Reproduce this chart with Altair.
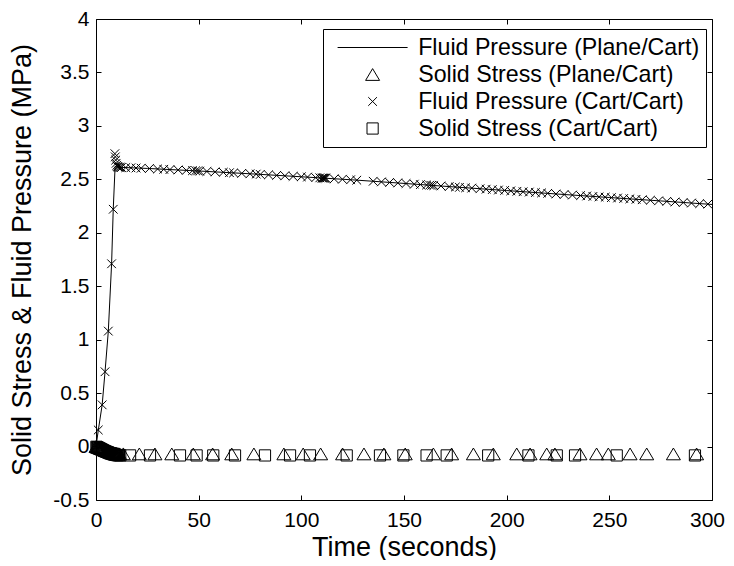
import altair as alt
import pandas as pd

# ---------------- data ----------------
series_names = [
    "Fluid Pressure (Plane/Cart)",
    "Solid Stress (Plane/Cart)",
    "Fluid Pressure (Cart/Cart)",
    "Solid Stress (Cart/Cart)",
]

# Fluid pressure, Plane/Cart (solid line)
line_t = [0, 1.1, 3.0, 4.4, 6.0, 7.6, 8.4, 9.3, 12, 25, 50, 75, 100, 125, 150,
          175, 200, 225, 250, 275, 300]
line_p = [0.0, 0.15, 0.39, 0.70, 1.08, 1.71, 2.22, 2.62, 2.612, 2.602, 2.578,
          2.552, 2.524, 2.495, 2.462, 2.428, 2.395, 2.362, 2.330, 2.298, 2.265]

# Fluid pressure, Cart/Cart (x markers)
cross_t = [0, 1.1, 3.0, 4.4, 6.0, 7.6, 8.4, 9.2, 9.4, 9.6, 9.8, 10.1, 10.4, 10.8,
           11.3, 11.8, 12.4, 14.5, 17, 19.5, 22, 26, 30, 33, 36, 40, 44, 47, 48.5,
           49.5, 50.5, 54, 58, 62, 65, 67, 71, 75, 78, 80, 84, 88, 92, 96, 100,
           103, 107, 109, 110, 110.5, 111, 111.5, 112, 116, 120, 124, 127, 135,
           139, 143, 147, 151, 155, 158, 161, 162.5, 163.5, 164.5, 168, 172, 175,
           177, 180, 183, 187, 190, 193, 196, 199, 202, 205, 208, 211, 214, 217,
           220, 224, 228, 232, 236, 239, 242, 245, 248, 251, 254, 257, 260, 263,
           266, 270, 274, 278, 282, 286, 290, 294, 298]
cross_p = [0.0, 0.155, 0.39, 0.70, 1.08, 1.71, 2.22, 2.74, 2.71, 2.68, 2.65, 2.63,
           2.62, 2.615, 2.612, 2.612, 2.611, 2.610, 2.608, 2.606, 2.604, 2.601,
           2.597, 2.594, 2.591, 2.588, 2.584, 2.581, 2.580, 2.579, 2.577, 2.574,
           2.570, 2.566, 2.562, 2.560, 2.556, 2.552, 2.549, 2.546, 2.542, 2.537,
           2.533, 2.528, 2.524, 2.521, 2.516, 2.514, 2.512, 2.512, 2.511, 2.511,
           2.510, 2.505, 2.501, 2.496, 2.492, 2.482, 2.476, 2.471, 2.466, 2.461,
           2.455, 2.451, 2.447, 2.445, 2.444, 2.442, 2.438, 2.432, 2.428, 2.425,
           2.421, 2.418, 2.412, 2.408, 2.404, 2.400, 2.396, 2.392, 2.388, 2.384,
           2.381, 2.377, 2.373, 2.369, 2.363, 2.358, 2.353, 2.348, 2.344, 2.340,
           2.336, 2.333, 2.329, 2.325, 2.321, 2.317, 2.313, 2.309, 2.304, 2.299,
           2.294, 2.288, 2.283, 2.278, 2.273, 2.268]

# Solid stress, Plane/Cart (triangles)
tri_t = [0, 0.4, 0.8, 1.2, 1.6, 2.0, 2.4, 2.8, 3.2, 3.6, 4.0, 4.5, 5.0, 5.5, 6.0,
         6.5, 7.0, 7.5, 8.0, 8.5, 9.0, 9.5, 10.0, 10.5, 11.0, 11.5,
         13.3, 21.1, 28.7, 36.9, 47.4, 56.8, 66.1, 76.9, 91.5, 100.9, 109.4,
         120.1, 130.5, 140.2, 150.6, 164.3, 173.2, 183.8, 193.5, 204.9, 211.4,
         219.5, 223.5, 235.7, 243.8, 249.5, 260.1, 268.2, 281.2, 292.5]
tri_s = [0.0, -0.003, -0.006, -0.009, -0.012, -0.015, -0.018, -0.021, -0.024,
         -0.027, -0.030, -0.033, -0.036, -0.039, -0.042, -0.045, -0.048, -0.051,
         -0.054, -0.057, -0.060, -0.062, -0.064, -0.066, -0.067, -0.068,
         -0.068, -0.069, -0.069, -0.069, -0.069, -0.069, -0.069, -0.069, -0.069,
         -0.069, -0.069, -0.069, -0.069, -0.069, -0.069, -0.069, -0.069, -0.069,
         -0.069, -0.069, -0.069, -0.069, -0.069, -0.069, -0.069, -0.069, -0.069,
         -0.069, -0.069, -0.069]

# Solid stress, Cart/Cart (squares)
sq_t = [0.2, 0.6, 1.0, 1.4, 1.8, 2.2, 2.6, 3.0, 3.4, 3.8, 4.2, 4.7, 5.2, 5.7, 6.2,
        6.7, 7.2, 7.7, 8.2, 8.7, 9.2, 9.7, 10.2, 10.7, 11.2, 11.8,
        16.6, 26.3, 40.9, 49.0, 57.1, 67.7, 82.3, 94.5, 104.2, 122.1, 138.3,
        149.7, 161.0, 170.8, 191.0, 210.6, 224.4, 233.3, 253.6, 291.7]
sq_s = [-0.002, -0.006, -0.010, -0.014, -0.018, -0.022, -0.026, -0.030, -0.034,
        -0.038, -0.042, -0.046, -0.050, -0.054, -0.058, -0.062, -0.065, -0.068,
        -0.071, -0.074, -0.076, -0.078, -0.080, -0.081, -0.082, -0.083,
        -0.083, -0.083, -0.083, -0.083, -0.083, -0.083, -0.083, -0.083, -0.083,
        -0.083, -0.083, -0.083, -0.083, -0.083, -0.083, -0.083, -0.083, -0.083,
        -0.083, -0.083]

x_ticks = [0, 50, 100, 150, 200, 250, 300]
y_ticks = [-0.5, 0, 0.5, 1, 1.5, 2, 2.5, 3, 3.5, 4]

# ---------------- tables ----------------
df_line = pd.DataFrame({"t": line_t, "v": line_p, "series": series_names[0]})
df_cross = pd.DataFrame({"t": cross_t, "v": cross_p, "series": series_names[2]})
df_solid = pd.concat([
    pd.DataFrame({"t": tri_t, "v": tri_s, "series": series_names[1]}),
    pd.DataFrame({"t": sq_t, "v": sq_s, "series": series_names[3]}),
], ignore_index=True)

FONT = "Liberation Sans"
W, H = 616, 481

x_scale = alt.Scale(domain=[0, 300], nice=False, zero=False)
y_scale = alt.Scale(domain=[-0.5, 4], nice=False, zero=False)

shape_paths = [
    "M-5,0H5",                                   # line
    "M0,-0.84L1,0.84L-1,0.84Z",                  # triangle
    "M-0.62,-0.62L0.62,0.62M-0.62,0.62L0.62,-0.62",  # x
    "M-0.8,-0.8H0.8V0.8H-0.8Z",                  # square
]
shape_scale = alt.Scale(domain=series_names, range=shape_paths)

legend = alt.Legend(
    title=None, orient="none", legendX=227, legendY=10, direction="vertical",
    fillColor="white", strokeColor="black", padding=6,
    symbolSize=196, symbolStrokeWidth=1, symbolStrokeColor="black",
    symbolFillColor="transparent", symbolOffset=32, labelOffset=34,
    labelFont=FONT, labelFontSize=23.2, labelColor="black", labelLimit=600,
    clipHeight=25, rowPadding=2,
)

tick_axis = dict(domain=False, grid=False, labels=False, title=None,
                 tickSize=5, tickColor="black", tickWidth=1)


def ax_labels(values, orient, title, **kw):
    return alt.Axis(values=values, orient=orient, title=title, domain=False,
                    grid=False, ticks=False, tickSize=0, labelFont=FONT,
                    labelFontSize=21, labelColor="black", labelFlush=False,
                    labelExpr="'' + datum.value", titleFont=FONT,
                    titleFontSize=27, titleFontWeight="normal",
                    titleColor="black", **kw)


line = alt.Chart(df_line).mark_line(color="black", strokeWidth=1).encode(
    x=alt.X("t:Q", scale=x_scale,
            axis=ax_labels(x_ticks, "bottom", "Time (seconds)",
                           labelPadding=9, titlePadding=4,
                           labelOffset={"condition": {"test": "datum.value == 300",
                                                      "value": -5},
                                        "value": 0})),
    y=alt.Y("v:Q", scale=y_scale,
            axis=ax_labels(y_ticks, "left",
                           "Solid Stress & Fluid Pressure (MPa)",
                           labelPadding=7, titlePadding=16)),
)

crosses = alt.Chart(df_cross).mark_point(
    filled=False, color="black", size=196, strokeWidth=1, opacity=1
).encode(
    x=alt.X("t:Q", scale=x_scale,
            axis=alt.Axis(values=x_ticks, orient="bottom", offset=-5, **tick_axis)),
    y=alt.Y("v:Q", scale=y_scale,
            axis=alt.Axis(values=y_ticks, orient="left", offset=-5, **tick_axis)),
    shape=alt.Shape("series:N", scale=shape_scale, legend=legend),
)

solids = alt.Chart(df_solid).mark_point(
    filled=False, color="black", size=196, strokeWidth=1, opacity=1
).encode(
    x=alt.X("t:Q", scale=x_scale,
            axis=alt.Axis(values=x_ticks, orient="top", offset=-5, **tick_axis)),
    y=alt.Y("v:Q", scale=y_scale,
            axis=alt.Axis(values=y_ticks, orient="right", offset=-5, **tick_axis)),
    shape=alt.Shape("series:N", scale=shape_scale, legend=legend),
)

chart = alt.layer(line, crosses, solids).resolve_axis(
    x="independent", y="independent"
).properties(
    width=W, height=H,
    padding={"left": 88, "top": 11, "right": 14, "bottom": 60},
    autosize=alt.AutoSizeParams(type="none"),
    background="white",
).configure(font=FONT).configure_view(stroke="black", strokeWidth=1)

chart.save("out.html", embed_options={"renderer": "svg", "actions": False})
